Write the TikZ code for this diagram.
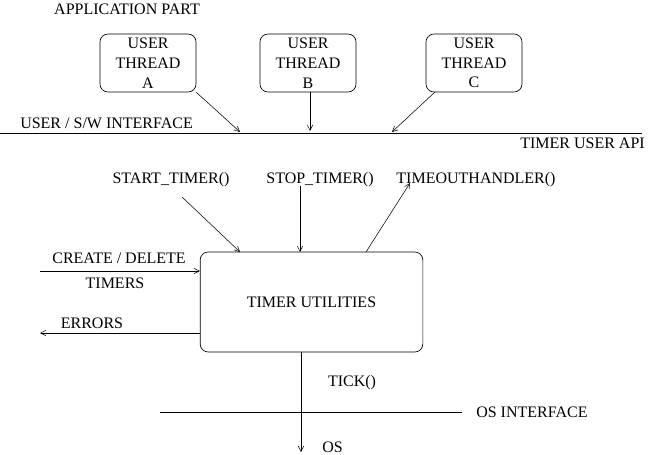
\documentclass[tikz,border=0pt]{standalone}
\usepackage{fontspec}
\setmainfont{Liberation Serif}
\usetikzlibrary{arrows.meta}
\begin{document}
\begin{tikzpicture}[x=0.75pt,y=-0.75pt,
  every node/.style={font=\fontsize{12}{14.8}\selectfont, inner sep=0pt},
  lbl/.style={},
  thread/.style={draw, rounded corners=6pt, minimum width=72pt, minimum height=43.5pt, align=center, line width=0.5pt},
  mainbox/.style={draw, rounded corners=6pt, minimum width=167pt, minimum height=75pt, line width=0.5pt},
  arr/.style={-{Straight Barb[length=4pt,width=4pt]}, line width=0.4pt},
  ln/.style={line width=0.5pt}]
\useasboundingbox (0,0) rectangle (650,454);
\node[lbl] (app) at (127,9) {APPLICATION PART};
\node[thread] (tA) at (148,63) {USER\\THREAD\\A};
\node[thread] (tB) at (308,63) {USER\\THREAD\\B};
\node[thread] (tC) at (474,63) {USER\\THREAD\\C};
\coordinate (L1) at (0,133);
\coordinate (L2) at (642,133);
\draw[ln] (L1) -- (L2);
\node[lbl, anchor=west] (usw) at (20,123) {USER / S/W INTERFACE};
\node[lbl, anchor=east] (api) at (645,143) {TIMER USER API};
\coordinate (eA) at (240,132);
\coordinate (eB) at (310,131);
\coordinate (eC) at (392,132);
\coordinate (sC) at (435,92);
\draw[arr] (tA.south east) -- (eA);
\draw[arr] (tB.south -| eB) -- (eB);
\draw[arr] (sC) -- (eC);

\node[lbl] (st) at (171,180) {START\_TIMER()};
\node[lbl] (sp) at (320,180) {STOP\_TIMER()};
\node[lbl] (to) at (476,180) {TIMEOUTHANDLER()};
\node[mainbox] (tu) at (311.5,302) {TIMER UTILITIES};
\coordinate (s1) at (182,197);
\coordinate (e1) at (240,252);
\coordinate (s2) at (300,186);
\coordinate (e2) at (300,252);
\coordinate (s3) at (366,252);
\coordinate (e3) at (410,183);
\draw[arr] (s1) -- (e1);
\draw[arr] (s2) -- (e2);
\draw[arr] (s3) -- (e3);

\node[lbl] (cd) at (119,258) {CREATE / DELETE};
\node[lbl] (tm) at (115,283) {TIMERS};
\coordinate (ci) at (40,271);
\draw[arr] (ci) -- (ci -| tu.west);
\node[lbl] (er) at (92,323) {ERRORS};
\coordinate (eo) at (40,333);
\draw[arr] (eo -| tu.west) -- (eo);

\coordinate (os) at (301,452);
\draw[arr] (tu.south -| os) -- (os);
\node[lbl] (tk) at (352,383) {TICK()};
\coordinate (o1) at (160,412);
\coordinate (o2) at (462,412);
\draw[ln] (o1) -- (o2);
\node[lbl, anchor=west] (osi) at (476,412) {OS INTERFACE};
\node[lbl, anchor=west] (osl) at (322,447) {OS};
\end{tikzpicture}
\end{document}
